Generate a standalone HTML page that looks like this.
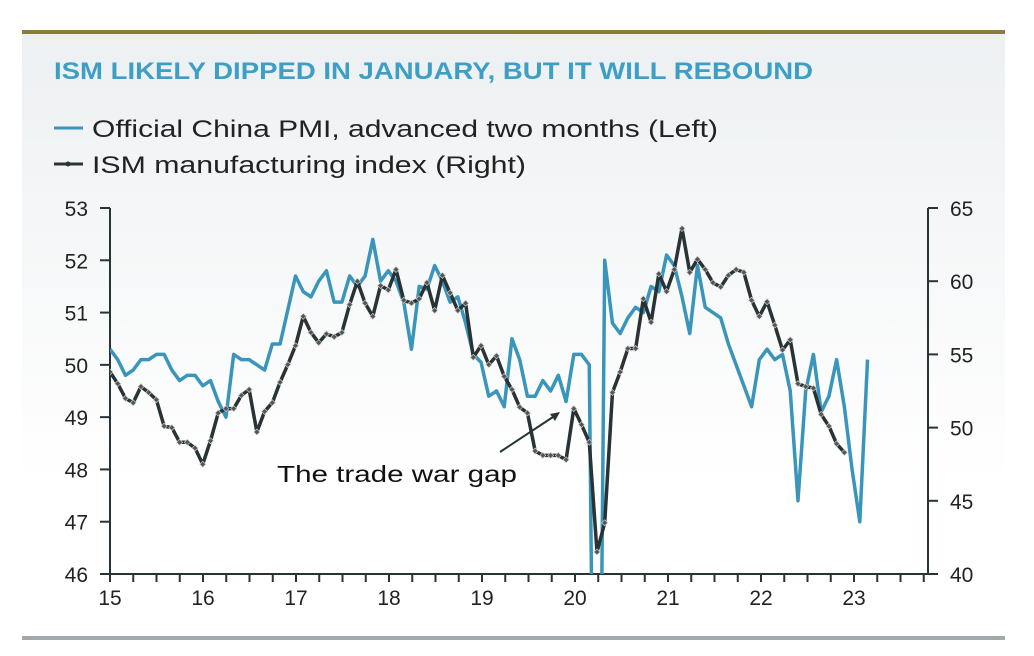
<!DOCTYPE html>
<html style="overflow:hidden"><head><meta charset="utf-8"><style>
html,body{margin:0;width:1034px;height:656px;background:#fff;overflow:hidden;font-family:"Liberation Sans",sans-serif}
#wrap{position:absolute;left:22px;top:30px;width:983px;height:606px;background:linear-gradient(#edf0f2,#ffffff 75%)}
svg{display:block}
</style></head><body>
<div id="wrap"></div>
<svg id="c" width="1034" height="656" style="position:absolute;left:0;top:0">
<rect x="22" y="30" width="983" height="4" fill="#8a7d3a"/>
<rect x="22" y="636" width="983" height="4" fill="#a1a9ad"/>
<text x="54" y="79" font-size="24" font-weight="bold" fill="#3d9fc6" textLength="759" lengthAdjust="spacingAndGlyphs">ISM LIKELY DIPPED IN JANUARY, BUT IT WILL REBOUND</text>
<line x1="54" y1="128" x2="83" y2="128" stroke="#3a95bb" stroke-width="3"/>
<text x="92" y="137" font-size="24" fill="#222" textLength="626" lengthAdjust="spacingAndGlyphs">Official China PMI, advanced two months (Left)</text>
<line x1="54" y1="164" x2="83" y2="164" stroke="#283336" stroke-width="3"/>
<circle cx="68" cy="164" r="2.5" fill="#283336"/>
<text x="92" y="173" font-size="24" fill="#222" textLength="434" lengthAdjust="spacingAndGlyphs">ISM manufacturing index (Right)</text>
<defs><clipPath id="pc"><rect x="110" y="205" width="818" height="369"/></clipPath></defs>
<g id="axes"></g>
<g id="series" clip-path="url(#pc)"></g>
<text x="277" y="482" font-size="23" fill="#111" textLength="240" lengthAdjust="spacingAndGlyphs">The trade war gap</text>
<line x1="500" y1="452" x2="556" y2="415" stroke="#283336" stroke-width="2"/>
<polygon points="560,412 550,414 555,421" fill="#283336"/>
</svg>
<script>
const chinaPMI=[50.3,50.1,49.8,49.9,50.1,50.1,50.2,50.2,49.9,49.7,49.8,49.8,
49.6,49.7,49.3,49.0,50.2,50.1,50.1,50.0,49.9,50.4,50.4,51.05,
51.7,51.4,51.3,51.6,51.8,51.2,51.2,51.7,51.5,51.7,52.4,51.6,
51.8,51.6,51.2,50.3,51.5,51.45,51.9,51.6,51.2,51.3,50.8,50.2,
50.05,49.4,49.5,49.2,50.5,50.1,49.4,49.4,49.7,49.5,49.8,49.3,
50.2,50.2,50.0,35.7,52.0,50.8,50.6,50.9,51.1,51.0,51.5,51.4,
52.1,51.9,51.3,50.6,51.9,51.1,51.0,50.9,50.4,50.0,49.6,49.2,
50.1,50.3,50.1,50.2,49.5,47.4,49.5,50.2,49.1,49.4,50.1,49.2,
48.0,47.0,50.1];
const ismIndex=[53.8,53.0,52.0,51.7,52.8,52.4,51.9,50.1,50.0,49.0,49.0,48.6,
47.5,49.1,51.0,51.3,51.3,52.2,52.6,49.7,51.1,51.7,53.1,54.3,
55.6,57.6,56.5,55.8,56.4,56.2,56.5,58.4,60.0,58.5,57.6,59.7,
59.4,60.8,58.7,58.5,58.8,59.9,58.0,60.4,59.2,58.0,58.5,54.8,
55.6,54.3,54.9,53.5,52.6,51.4,51.0,48.4,48.1,48.1,48.1,47.8,
51.3,50.2,49.0,41.5,43.5,52.4,53.8,55.4,55.4,58.8,57.2,60.5,
59.3,60.8,63.6,60.6,61.5,60.8,59.9,59.6,60.4,60.8,60.6,58.7,
57.6,58.6,57.0,55.3,56.0,53.0,52.8,52.7,50.9,50.1,48.9,48.3];
const yearLabels=["15","16","17","18","19","20","21","22","23"];
const leftTicks=[46,47,48,49,50,51,52,53];
const rightTicks=[40,45,50,55,60,65];
const X0=110,PXY=93,PXM=7.73;
const xm=i=>X0+i*PXM;
const yl=v=>208+(53-v)*(366/7);
const yr=v=>208+(65-v)*(366/25);
const NS="http://www.w3.org/2000/svg";
const ax=document.getElementById('axes'),sr=document.getElementById('series');
function mk(tag,attrs,parent){const e=document.createElementNS(NS,tag);for(const k in attrs)e.setAttribute(k,attrs[k]);parent.appendChild(e);return e;}
const dark="#283336";
let e;
e=mk('line',{x1:110,y1:208,x2:110,y2:574,stroke:dark,'stroke-width':2},ax);


e=mk('line',{x1:928,y1:208,x2:928,y2:574,stroke:dark,'stroke-width':2},ax);


e=mk('line',{x1:100,y1:574,x2:938,y2:574,stroke:dark,'stroke-width':2},ax);


leftTicks.forEach(v=>{
 e=mk('line',{x1:100,y1:yl(v),x2:110,y2:yl(v),stroke:dark,'stroke-width':2},ax);
 
 
 e=mk('text',{x:88,y:yl(v)+8,'font-size':21,fill:'#222','text-anchor':'end'},ax);e.textContent=v;
 
 
});
rightTicks.forEach(v=>{
 e=mk('line',{x1:928,y1:yr(v),x2:938,y2:yr(v),stroke:dark,'stroke-width':2},ax);
 
 
 e=mk('text',{x:950,y:yr(v)+8,'font-size':21,fill:'#222'},ax);e.textContent=v;
 
 
});
for(let q=0;q<=35;q++){
 const x=X0+q*PXY/4;
 e=mk('line',{x1:x,y1:574,x2:x,y2:582,stroke:dark,'stroke-width':2},ax);
 
 
}
yearLabels.forEach((l,i)=>{
 e=mk('text',{x:X0+i*PXY,y:605,'font-size':21,fill:'#222','text-anchor':'middle'},ax);e.textContent=l;
 
 
});
e=mk('polyline',{points:chinaPMI.map((v,i)=>xm(i)+','+yl(v)).join(' '),fill:'none',stroke:'#3a95bb','stroke-width':3.5,'stroke-linejoin':'round'},sr);


e=mk('polyline',{points:ismIndex.map((v,i)=>xm(i)+','+yr(v)).join(' '),fill:'none',stroke:dark,'stroke-width':3.5,'stroke-linejoin':'round'},sr);


ismIndex.forEach((v,i)=>{
 const x=xm(i),y=yr(v);
 e=mk('polygon',{points:`${x},${y-3} ${x+3},${y} ${x},${y+3} ${x-3},${y}`,fill:'#555',stroke:'#ccc','stroke-width':0.7},sr);
 
 
});
</script>
</body></html>
